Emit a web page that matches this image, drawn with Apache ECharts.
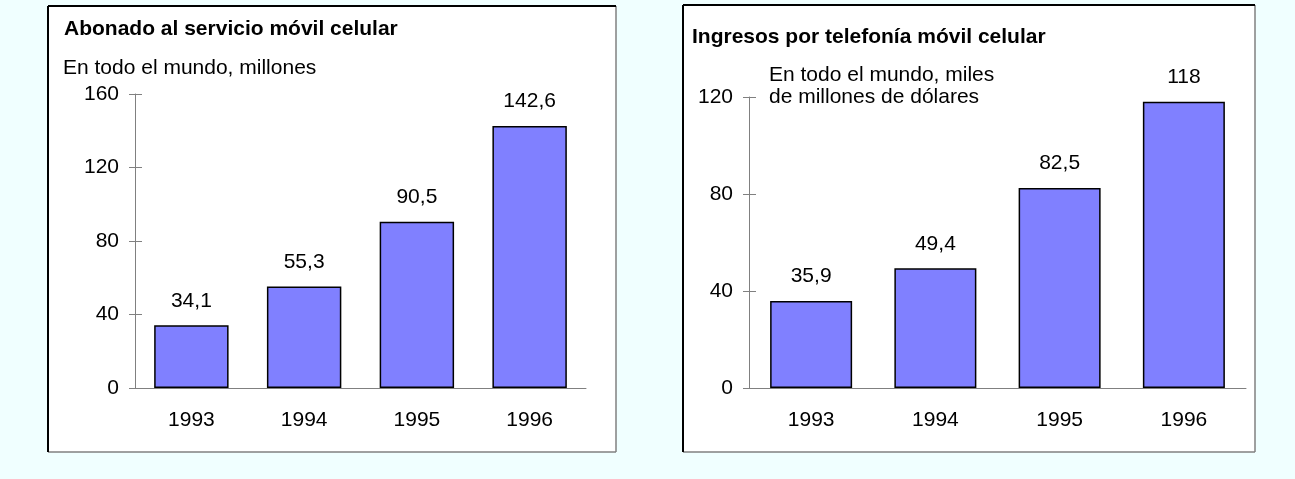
<!DOCTYPE html>
<html>
<head>
<meta charset="utf-8">
<script src="https://cdn.jsdelivr.net/npm/echarts@6/dist/echarts.min.js"></script>
<style>
  html, body { margin: 0; padding: 0; background: #F0FFFF; }
  #chart { width: 1295px; height: 479px; }
</style>
</head>
<body>
<div id="chart"></div>
<script>
  // data
  var years = ['1993', '1994', '1995', '1996']
  var abonados = [34.1, 55.3, 90.5, 142.6]
  var ingresos = [35.9, 49.4, 82.5, 118]
  var ticks1 = {min: 0, max: 160, interval: 40}
  var ticks2 = {min: 0, max: 120, interval: 40}

  var font = 'Liberation Sans, Arial, sans-serif'
  var fontSize = 21
  var axisColor = '#808080'

  function comma(p) {
    return String(p.value).replace('.', ',')
  }

  function panel(x1, y1, x2, y2) {
    return [
      {type: 'rect', shape: {x: x1, y: y1, width: x2 - x1, height: y2 - y1}, style: {fill: '#fff'}, z: -10},
      {type: 'line', shape: {x1: x2, y1: y1, x2: x2, y2: y2}, style: {stroke: '#808080', lineWidth: 1.5}, z: -9},
      {type: 'line', shape: {x1: x1, y1: y2, x2: x2, y2: y2}, style: {stroke: '#808080', lineWidth: 1.5}, z: -9},
      {type: 'line', shape: {x1: x1, y1: y1, x2: x2, y2: y1}, style: {stroke: '#000', lineWidth: 2}, z: -9},
      {type: 'line', shape: {x1: x1, y1: y1, x2: x1, y2: y2}, style: {stroke: '#000', lineWidth: 2}, z: -9}
    ]
  }

  function text(str, x, y, bold) {
    return {
      type: 'text', x: x, y: y, z: 10,
      style: {
        text: str, fill: '#000', textVerticalAlign: 'middle',
        font: (bold ? 'bold ' : '') + fontSize + 'px ' + font
      }
    }
  }

  function xAxes(grid) {
    var base = {
      type: 'category', gridIndex: grid, data: years,
      axisLine: {lineStyle: {color: axisColor}},
      axisTick: {length: 6, lineStyle: {color: axisColor}},
      axisLabel: {color: '#000', fontSize: fontSize, fontFamily: font, margin: 22}
    }
    var inner = {
      type: 'category', gridIndex: grid, data: years, position: 'bottom',
      axisLine: {show: false},
      axisTick: {inside: true, length: 5, lineStyle: {color: axisColor}},
      axisLabel: {show: false}
    }
    return [base, inner]
  }

  function yAxes(grid, t) {
    var base = {
      type: 'value', gridIndex: grid, min: t.min, max: t.max, interval: t.interval,
      splitLine: {show: false},
      axisLine: {show: true, lineStyle: {color: axisColor}},
      axisTick: {show: true, length: 6, lineStyle: {color: axisColor}},
      axisLabel: {color: '#000', fontSize: fontSize, fontFamily: font, margin: 16}
    }
    var inner = {
      type: 'value', gridIndex: grid, min: t.min, max: t.max, interval: t.interval,
      position: 'left',
      splitLine: {show: false},
      axisLine: {show: false},
      axisTick: {show: true, inside: true, length: 7, lineStyle: {color: axisColor}},
      axisLabel: {show: false}
    }
    return [base, inner]
  }

  function bars(data, xi, yi) {
    return {
      type: 'bar', data: data, xAxisIndex: xi, yAxisIndex: yi,
      barWidth: '66%',
      itemStyle: {color: '#8080FF', borderColor: '#000', borderWidth: 1.5},
      label: {
        show: true, position: 'top', distance: 14, color: '#000',
        fontSize: fontSize, fontFamily: font, formatter: comma
      }
    }
  }

  var chart = echarts.init(document.getElementById('chart'))
  chart.setOption({
    backgroundColor: '#F0FFFF',
    animation: false,
    graphic: [].concat(
      panel(48, 6, 616, 452),
      panel(683, 5, 1255, 452),
      [
        text('Abonado al servicio móvil celular', 64, 29, true),
        text('En todo el mundo, millones', 63, 68, false),
        text('Ingresos por telefonía móvil celular', 692, 37, true),
        text('En todo el mundo, miles', 769, 75, false),
        text('de millones de dólares', 769, 97, false)
      ]
    ),
    grid: [
      {left: 135, top: 94, width: 451, bottom: 91},
      {left: 749, top: 97, width: 497, bottom: 91}
    ],
    xAxis: [].concat(xAxes(0), xAxes(1)),
    yAxis: [].concat(yAxes(0, ticks1), yAxes(1, ticks2)),
    series: [
      bars(abonados, 0, 0),
      bars(ingresos, 2, 2)
    ]
  })
</script>
</body>
</html>
